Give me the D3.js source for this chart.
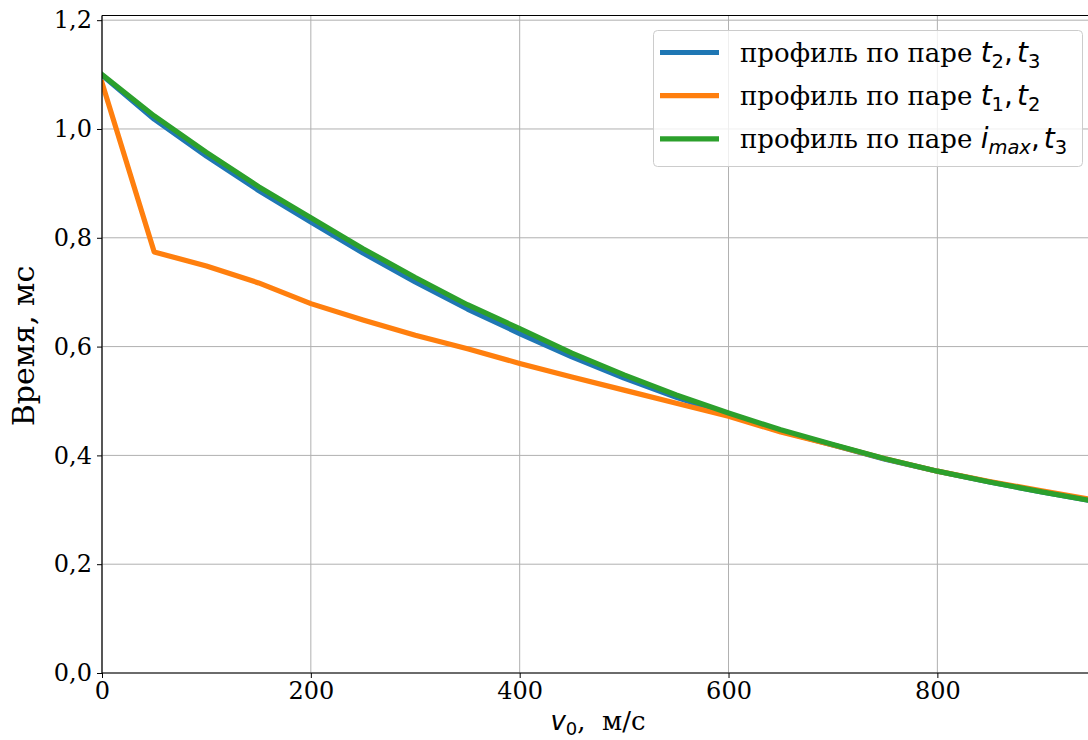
<!DOCTYPE html>
<html>
<head>
<meta charset="utf-8">
<script src="https://cdn.jsdelivr.net/npm/d3@7"></script>
<style>
  body { margin: 0; background: #fff; overflow: hidden; }
  svg { display: block; }
  .tick text { font-family: "DejaVu Serif", serif; font-size: 24px; fill: #000; }
</style>
</head>
<body>
<div id="chart"></div>
<script>
// data
const speeds = [0, 50, 100, 150, 200, 250, 300, 350, 400, 450, 500, 550, 600, 650, 700, 750, 800, 850, 900, 950];
const pairT2T3 = [1.099, 1.018, 0.950, 0.887, 0.829, 0.772, 0.719, 0.669, 0.624, 0.581, 0.542, 0.507, 0.475, 0.445, 0.419, 0.393, 0.371, 0.351, 0.333, 0.316];
const pairT1T2 = [1.085, 0.774, 0.748, 0.717, 0.679, 0.649, 0.621, 0.596, 0.569, 0.544, 0.520, 0.496, 0.472, 0.443, 0.419, 0.394, 0.371, 0.352, 0.335, 0.318];
const pairImaxT3 = [1.100, 1.024, 0.957, 0.894, 0.837, 0.780, 0.727, 0.677, 0.633, 0.588, 0.548, 0.511, 0.478, 0.447, 0.420, 0.394, 0.371, 0.351, 0.333, 0.316];
const xTicks = [0, 200, 400, 600, 800];
const yTicks = [0, 0.2, 0.4, 0.6, 0.8, 1.0, 1.2];

const series = [
  { values: pairT2T3, color: "#1f77b4", sub: ["t", "2", "t", "3"] },
  { values: pairT1T2, color: "#ff7f0e", sub: ["t", "1", "t", "2"] },
  { values: pairImaxT3, color: "#2ca02c", sub: ["i", "max", "t", "3"] }
];

const width = 1088, height = 740;
const margin = { top: 15.5, left: 102, bottom: 673 };

const svg = d3.select("#chart").append("svg")
  .attr("width", width)
  .attr("height", height);

const x = d3.scaleLinear().domain([0, 950]).range([margin.left, 1094]);
const y = d3.scaleLinear().domain([0, 1.2086]).range([margin.bottom, margin.top]);

const comma = v => d3.format(".1f")(v).replace(".", ",");

// grid
const grid = svg.append("g");
grid.selectAll(".gx").data(xTicks).join("line")
  .attr("x1", d => x(d)).attr("x2", d => x(d))
  .attr("y1", margin.top).attr("y2", margin.bottom)
  .attr("stroke", "#b0b0b0").attr("stroke-width", 1);
grid.selectAll(".gy").data(yTicks).join("line")
  .attr("x1", margin.left).attr("x2", width)
  .attr("y1", d => y(d)).attr("y2", d => y(d))
  .attr("stroke", "#b0b0b0").attr("stroke-width", 1);

svg.append("clipPath").attr("id", "clip")
  .append("rect")
  .attr("x", margin.left).attr("y", margin.top)
  .attr("width", width - margin.left).attr("height", margin.bottom - margin.top);

// lines
const line = d3.line()
  .x((d, i) => x(speeds[i]))
  .y(d => y(d));

svg.append("g").attr("clip-path", "url(#clip)")
  .selectAll("path").data(series).join("path")
  .attr("d", d => line(d.values))
  .attr("fill", "none")
  .attr("stroke", d => d.color)
  .attr("stroke-width", 5.2)
  .attr("stroke-linejoin", "round")
  .attr("stroke-linecap", "square");

// axes
const xAxis = d3.axisBottom(x).tickValues(xTicks).tickSize(5).tickPadding(4).tickFormat(d3.format("d"));
const yAxis = d3.axisLeft(y).tickValues(yTicks).tickSize(5).tickPadding(5).tickFormat(comma);

svg.append("g").attr("transform", `translate(0,${margin.bottom})`).call(xAxis)
  .call(g => g.select(".domain").remove())
  .call(g => g.selectAll(".tick line").attr("stroke", "#000").attr("stroke-width", 1));
svg.append("g").attr("transform", `translate(${margin.left},0)`).call(yAxis)
  .call(g => g.select(".domain").remove())
  .call(g => g.selectAll(".tick line").attr("stroke", "#000").attr("stroke-width", 1));

// spines
const spine = svg.append("g").attr("stroke", "#000").attr("stroke-width", 1.2);
spine.append("line").attr("x1", margin.left).attr("x2", width).attr("y1", margin.bottom).attr("y2", margin.bottom);
spine.append("line").attr("x1", margin.left).attr("x2", width).attr("y1", margin.top).attr("y2", margin.top);
spine.append("line").attr("x1", margin.left).attr("x2", margin.left).attr("y1", margin.top).attr("y2", margin.bottom);

// axis labels
const xl = svg.append("text")
  .attr("x", 598).attr("y", 730)
  .attr("text-anchor", "middle")
  .style("font-family", "DejaVu Serif, serif").style("font-size", "26px");
xl.append("tspan").style("font-family", "DejaVu Sans").style("font-style", "italic").text("v");
xl.append("tspan").attr("dy", 5).style("font-family", "DejaVu Sans").style("font-size", "18px").text("0");
xl.append("tspan").attr("dy", -5).style("white-space", "pre").text(",  м/с");

svg.append("text")
  .attr("transform", "translate(34,346) rotate(-90)")
  .attr("text-anchor", "middle")
  .style("font-family", "DejaVu Serif, serif").style("font-size", "30px")
  .text("Время, мс");

// legend
const legend = svg.append("g");
legend.append("rect")
  .attr("x", 653.5).attr("y", 30.5).attr("width", 429).attr("height", 136)
  .attr("rx", 4).attr("fill", "#fff").attr("fill-opacity", 0.8)
  .attr("stroke", "#cccccc").attr("stroke-width", 1);

const rows = legend.selectAll(".row").data(series).join("g")
  .attr("transform", (d, i) => `translate(0,${52.5 + i * 43.2})`);
rows.append("line")
  .attr("x1", 660).attr("x2", 719)
  .attr("stroke", d => d.color).attr("stroke-width", 5.2);
rows.each(function (d) {
  const t = d3.select(this).append("text")
    .attr("x", 740).attr("y", 9)
    .style("font-family", "DejaVu Serif, serif").style("font-size", "26px");
  t.append("tspan").style("white-space", "pre").text("профиль по паре ");
  t.append("tspan").style("font-family", "DejaVu Sans").style("font-size", "28px").style("font-style", "italic").text(d.sub[0]);
  t.append("tspan").attr("dy", 6).style("font-family", "DejaVu Sans").style("font-size", "19.5px")
    .style("font-style", d.sub[1] === "max" ? "italic" : "normal").text(d.sub[1]);
  t.append("tspan").attr("dy", -6).style("font-family", "DejaVu Sans").style("font-size", "28px").text(",");
  t.append("tspan").attr("dx", 4).style("font-family", "DejaVu Sans").style("font-size", "28px").style("font-style", "italic").text(d.sub[2]);
  t.append("tspan").attr("dy", 6).style("font-family", "DejaVu Sans").style("font-size", "19.5px").text(d.sub[3]);
});
</script>
</body>
</html>
